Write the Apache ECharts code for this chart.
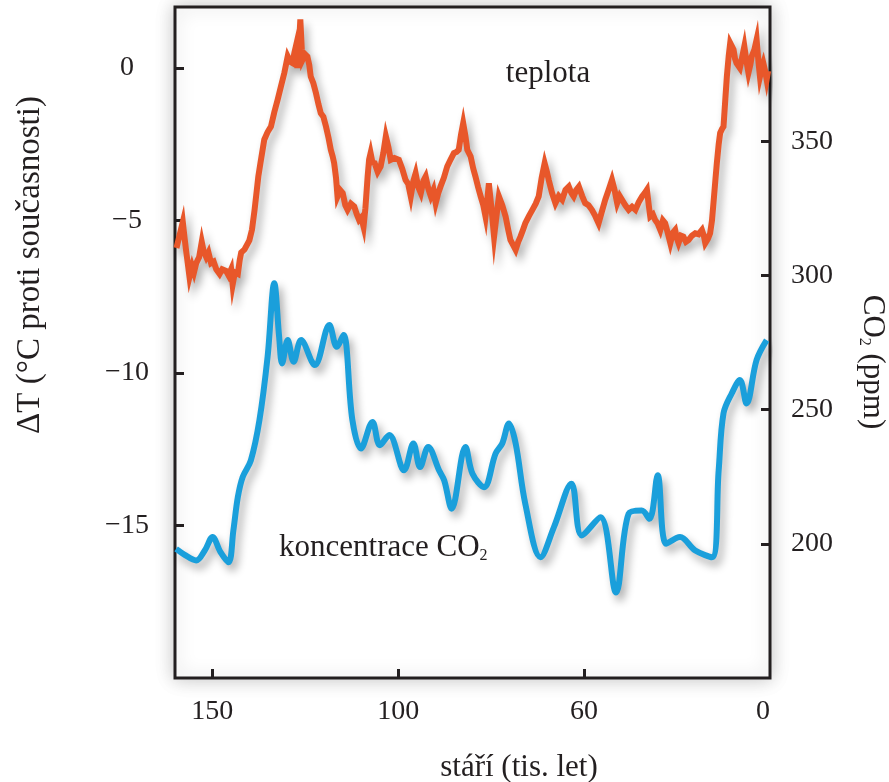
<!DOCTYPE html>
<html>
<head>
<meta charset="utf-8">
<style>
  html, body { margin: 0; padding: 0; background: #ffffff; }
  #chart { width: 889px; height: 782px; }
</style>
<script src="https://cdn.jsdelivr.net/npm/echarts@6/dist/echarts.min.js"></script>
</head>
<body>
<div id="chart"></div>
<script>
// Age axis (thousands of years before present) and its tick labels
const ageTickValues = [0, 50, 100, 150];
const ageTickLabels = ['0', '60', '100', '150'];

// Temperature difference axis ticks (°C) and CO2 axis ticks (ppm)
const tempTicks = [-15, -10, -5, 0];
const co2Ticks = [200, 250, 300, 350];

// Temperature record: age (kyr) and ΔT (°C)
const tempAge = [159.6, 158.8, 157.9, 157.4, 157.0, 156.1, 155.4, 154.9, 154.3, 153.5, 152.8, 152.3, 151.6, 151.0, 150.3, 149.6, 148.9, 148.0, 147.3, 146.3, 145.6, 144.9, 144.5, 143.9, 143.1, 142.6, 142.2, 141.3, 140.0, 139.3, 138.6, 138.0, 137.6, 137.0, 136.0, 135.1, 134.2, 133.3, 132.4, 131.5, 130.6, 129.7, 129.0, 128.4, 127.9, 127.5, 127.1, 126.7, 126.3, 125.9, 125.7, 125.0, 124.4, 123.9, 123.5, 122.8, 122.1, 121.4, 120.8, 120.1, 119.4, 118.7, 118.1, 117.6, 117.2, 116.7, 116.3, 115.6, 114.9, 114.2, 113.6, 112.7, 111.8, 111.1, 110.5, 109.9, 109.3, 108.8, 108.2, 107.8, 107.4, 106.9, 106.3, 105.5, 104.7, 104.0, 103.3, 102.6, 102.0, 101.0, 99.8, 98.9, 98.0, 97.3, 96.6, 95.9, 95.3, 94.6, 93.9, 93.2, 92.6, 91.9, 91.2, 90.5, 89.9, 89.2, 88.6, 87.7, 86.8, 85.9, 85.0, 84.3, 83.7, 83.1, 82.5, 81.9, 81.4, 80.5, 79.8, 79.2, 78.5, 77.8, 77.1, 76.5, 76.0, 75.6, 74.9, 74.2, 73.6, 72.9, 72.0, 71.1, 70.4, 69.8, 69.1, 68.4, 67.7, 67.1, 66.4, 65.8, 64.8, 63.9, 63.0, 62.2, 61.4, 60.6, 60.0, 59.5, 58.6, 57.7, 56.8, 55.9, 55.0, 54.1, 53.4, 52.8, 52.1, 51.4, 50.5, 49.7, 48.8, 47.9, 47.0, 46.1, 45.2, 44.3, 43.4, 42.5, 41.8, 41.1, 40.4, 39.8, 38.9, 38.0, 37.1, 36.2, 35.3, 34.4, 33.7, 33.1, 32.6, 32.2, 31.5, 30.9, 30.2, 29.5, 28.8, 28.2, 27.5, 26.8, 26.1, 25.5, 25.0, 24.6, 23.9, 23.3, 22.6, 21.9, 21.0, 20.1, 19.2, 18.3, 17.8, 17.4, 16.7, 16.1, 15.6, 15.2, 14.7, 14.3, 13.8, 13.4, 12.9, 12.5, 12.0, 11.6, 11.1, 10.7, 10.2, 9.8, 9.4, 9.0, 8.5, 8.1, 7.5, 6.9, 6.3, 5.8, 5.3, 4.9, 4.2, 3.6, 3.1, 2.7, 2.2, 1.8, 1.3, 0.9, 0.5];
const tempValue = [-5.9, -5.5, -5.05, -5.6, -6.0, -6.85, -6.5, -6.7, -6.4, -6.2, -5.7, -6.0, -6.2, -6.05, -6.4, -6.35, -6.6, -6.75, -6.6, -6.65, -6.8, -6.6, -7.1, -6.7, -6.75, -6.3, -6.05, -5.95, -5.65, -5.3, -4.65, -4.0, -3.56, -3.1, -2.35, -2.1, -1.92, -1.45, -1.04, -0.6, -0.16, 0.38, 0.2, 0.16, 0.5, 0.71, 0.0, 0.6, 1.59, 0.6, 0.27, 0.45, 0.38, 0.1, -0.28, -0.5, -0.82, -1.2, -1.48, -1.6, -1.92, -2.3, -2.68, -2.9, -3.12, -3.6, -4.21, -4.0, -4.1, -4.5, -4.65, -4.45, -4.54, -4.8, -4.98, -4.9, -5.2, -4.6, -3.56, -3.0, -2.79, -3.1, -3.12, -3.4, -3.23, -2.8, -2.24, -2.6, -3.01, -2.95, -3.01, -3.3, -3.67, -3.8, -4.21, -3.7, -3.45, -3.9, -4.1, -3.7, -3.56, -3.95, -4.21, -4.0, -4.43, -4.1, -3.89, -3.6, -3.23, -3.0, -2.79, -2.75, -2.68, -2.2, -1.81, -2.24, -2.68, -2.9, -3.3, -3.56, -3.9, -4.21, -4.5, -4.87, -4.3, -3.78, -4.6, -5.53, -4.9, -4.21, -4.5, -4.87, -5.3, -5.64, -5.8, -5.96, -5.7, -5.53, -5.3, -5.09, -4.85, -4.65, -4.45, -4.21, -3.6, -3.12, -3.4, -3.67, -4.1, -4.43, -4.2, -4.32, -4.0, -3.89, -4.1, -4.21, -4.0, -3.89, -4.2, -4.43, -4.5, -4.65, -4.85, -5.09, -4.7, -4.32, -4.0, -3.67, -4.0, -4.43, -4.2, -4.32, -4.5, -4.65, -4.55, -4.65, -4.4, -4.21, -4.1, -3.99, -4.5, -4.87, -4.8, -4.98, -5.1, -5.31, -5.0, -5.09, -5.4, -5.74, -5.4, -5.31, -5.6, -5.74, -5.5, -5.53, -5.7, -5.64, -5.5, -5.42, -5.45, -5.31, -5.5, -5.74, -5.6, -5.42, -5.0, -4.43, -3.7, -3.12, -2.5, -2.13, -2.0, -1.92, -1.0, -0.28, 0.4, 0.82, 0.7, 0.6, 0.3, 0.16, 0.1, 0.0, 0.35, 0.71, 0.2, -0.16, 0.1, 0.38, 0.6, 0.93, 0.2, -0.28, 0.0, 0.16, -0.1, -0.38, -0.1];

// CO2 record: age (kyr) and concentration (ppm)
const co2Age = [159.7, 157.5, 154.3, 152.0, 149.9, 147.8, 145.6, 144.3, 143.1, 141.8, 139.6, 137.3, 135.1, 133.3, 132.0, 131.2, 129.7, 128.1, 126.1, 122.4, 118.5, 116.5, 114.7, 112.3, 110.0, 106.9, 104.9, 102.4, 98.4, 95.9, 94.1, 91.9, 89.0, 87.6, 85.6, 81.9, 80.0, 76.9, 73.8, 72.0, 70.2, 68.4, 65.8, 61.7, 58.1, 53.4, 50.6, 45.6, 41.4, 38.0, 34.5, 32.4, 30.2, 27.9, 24.2, 20.1, 15.6, 13.8, 12.5, 10.3, 8.1, 6.3, 3.6, 0.9];
const co2Value = [198.1, 196.0, 193.8, 197.5, 202.5, 197.0, 193.1, 205.0, 217.4, 224.9, 231.1, 246.0, 269.7, 297.1, 277.2, 267.2, 275.9, 267.8, 275.9, 266.6, 281.5, 273.4, 277.8, 246.1, 235.5, 245.4, 236.7, 240.5, 227.4, 237.4, 228.6, 236.1, 227.4, 223.6, 213.1, 236.1, 226.1, 221.1, 233.6, 237.4, 244.8, 237.4, 214.9, 195.0, 206.2, 222.4, 203.1, 209.9, 181.9, 211.2, 212.4, 209.3, 225.5, 200.0, 202.5, 197.5, 195.0, 227.4, 248.6, 256.0, 261.0, 252.3, 268.5, 275.9];

const ink = '#231f20';
const serif = '"Liberation Serif", "DejaVu Serif", serif';
const tempColor = '#E8572A';
const co2Color = '#1A9FDB';

const chart = echarts.init(document.getElementById('chart'), null, { renderer: 'canvas' });

const zip = (xs, ys) => xs.map((x, i) => [x, ys[i]]);
const minus = v => String(v).replace('-', '\u2212');

const tickStyle = { color: ink, width: 3 };

chart.setOption({
  animation: false,
  backgroundColor: '#ffffff',
  grid: {
    left: 175, right: 119, top: 7, bottom: 104,
    show: true,
    backgroundColor: '#ffffff',
    borderColor: ink,
    borderWidth: 3,
    shadowColor: 'rgba(0,0,0,0.22)',
    shadowBlur: 18
  },
  xAxis: {
    type: 'value',
    min: 0, max: 160, interval: 50,
    inverse: true,
    axisLine: { show: false, onZero: false },
    splitLine: { show: false },
    axisTick: {
      show: true, inside: true, length: 9,
      customValues: [50, 100, 150],
      lineStyle: tickStyle
    },
    axisLabel: {
      customValues: ageTickValues,
      formatter: v => ageTickLabels[ageTickValues.indexOf(v)],
      color: ink, fontFamily: serif, fontSize: 28, margin: 20,
      alignMinLabel: 'right'
    }
  },
  yAxis: [
    {
      type: 'value', position: 'left',
      min: -20, max: 2,
      axisLine: { show: false, onZero: false },
      splitLine: { show: false },
      axisTick: {
        show: true, inside: true, length: 9,
        customValues: tempTicks,
        lineStyle: tickStyle
      },
      axisLabel: {
        customValues: tempTicks,
        formatter: minus,
        color: ink, fontFamily: serif, fontSize: 28,
        align: 'center', margin: 48
      }
    },
    {
      type: 'value', position: 'right',
      min: 150, max: 400,
      axisLine: { show: false, onZero: false },
      splitLine: { show: false },
      axisTick: {
        show: true, inside: true, length: 9,
        customValues: co2Ticks,
        lineStyle: tickStyle
      },
      axisLabel: {
        customValues: co2Ticks,
        color: ink, fontFamily: serif, fontSize: 28,
        align: 'left', margin: 21
      }
    }
  ],
  series: [
    {
      name: 'teplota',
      type: 'line',
      yAxisIndex: 0,
      data: zip(tempAge, tempValue),
      showSymbol: false,
      silent: true,
      lineStyle: {
        color: tempColor, width: 6, join: 'miter',
        shadowColor: 'rgba(0,0,0,0.32)', shadowBlur: 8,
        shadowOffsetX: 4, shadowOffsetY: 6
      }
    },
    {
      name: 'koncentrace CO2',
      type: 'line',
      yAxisIndex: 1,
      data: zip(co2Age, co2Value),
      smooth: 0.35,
      showSymbol: false,
      silent: true,
      lineStyle: {
        color: co2Color, width: 6,
        shadowColor: 'rgba(0,0,0,0.32)', shadowBlur: 8,
        shadowOffsetX: 4, shadowOffsetY: 6
      }
    }
  ],
  graphic: [
    {
      type: 'text', x: 30, y: 265, rotation: Math.PI / 2,
      style: {
        text: 'ΔT (°C proti současnosti)',
        font: '33px ' + serif, fill: ink,
        align: 'center', verticalAlign: 'middle'
      }
    },
    {
      type: 'text', x: 872, y: 362, rotation: -Math.PI / 2,
      style: {
        text: '{n|CO}{s|2}{n| (ppm)}',
        fill: ink, align: 'center', verticalAlign: 'middle',
        rich: {
          n: { fontFamily: serif, fontSize: 31, lineHeight: 31, verticalAlign: 'bottom', fill: ink },
          s: { fontFamily: serif, fontSize: 16, lineHeight: 16, verticalAlign: 'bottom', fill: ink }
        }
      }
    },
    {
      type: 'text', x: 519, y: 768,
      style: {
        text: 'stáří (tis. let)',
        font: '31px ' + serif, fill: ink,
        align: 'center', verticalAlign: 'middle'
      }
    },
    {
      type: 'text', x: 548, y: 74,
      style: {
        text: 'teplota',
        font: '31px ' + serif, fill: ink,
        align: 'center', verticalAlign: 'middle'
      }
    },
    {
      type: 'text', x: 279, y: 548,
      style: {
        text: '{n|koncentrace CO}{s|2}',
        fill: ink, align: 'left', verticalAlign: 'middle',
        rich: {
          n: { fontFamily: serif, fontSize: 31, lineHeight: 31, verticalAlign: 'bottom', fill: ink },
          s: { fontFamily: serif, fontSize: 16, lineHeight: 16, verticalAlign: 'bottom', fill: ink }
        }
      }
    }
  ]
});
</script>
</body>
</html>
